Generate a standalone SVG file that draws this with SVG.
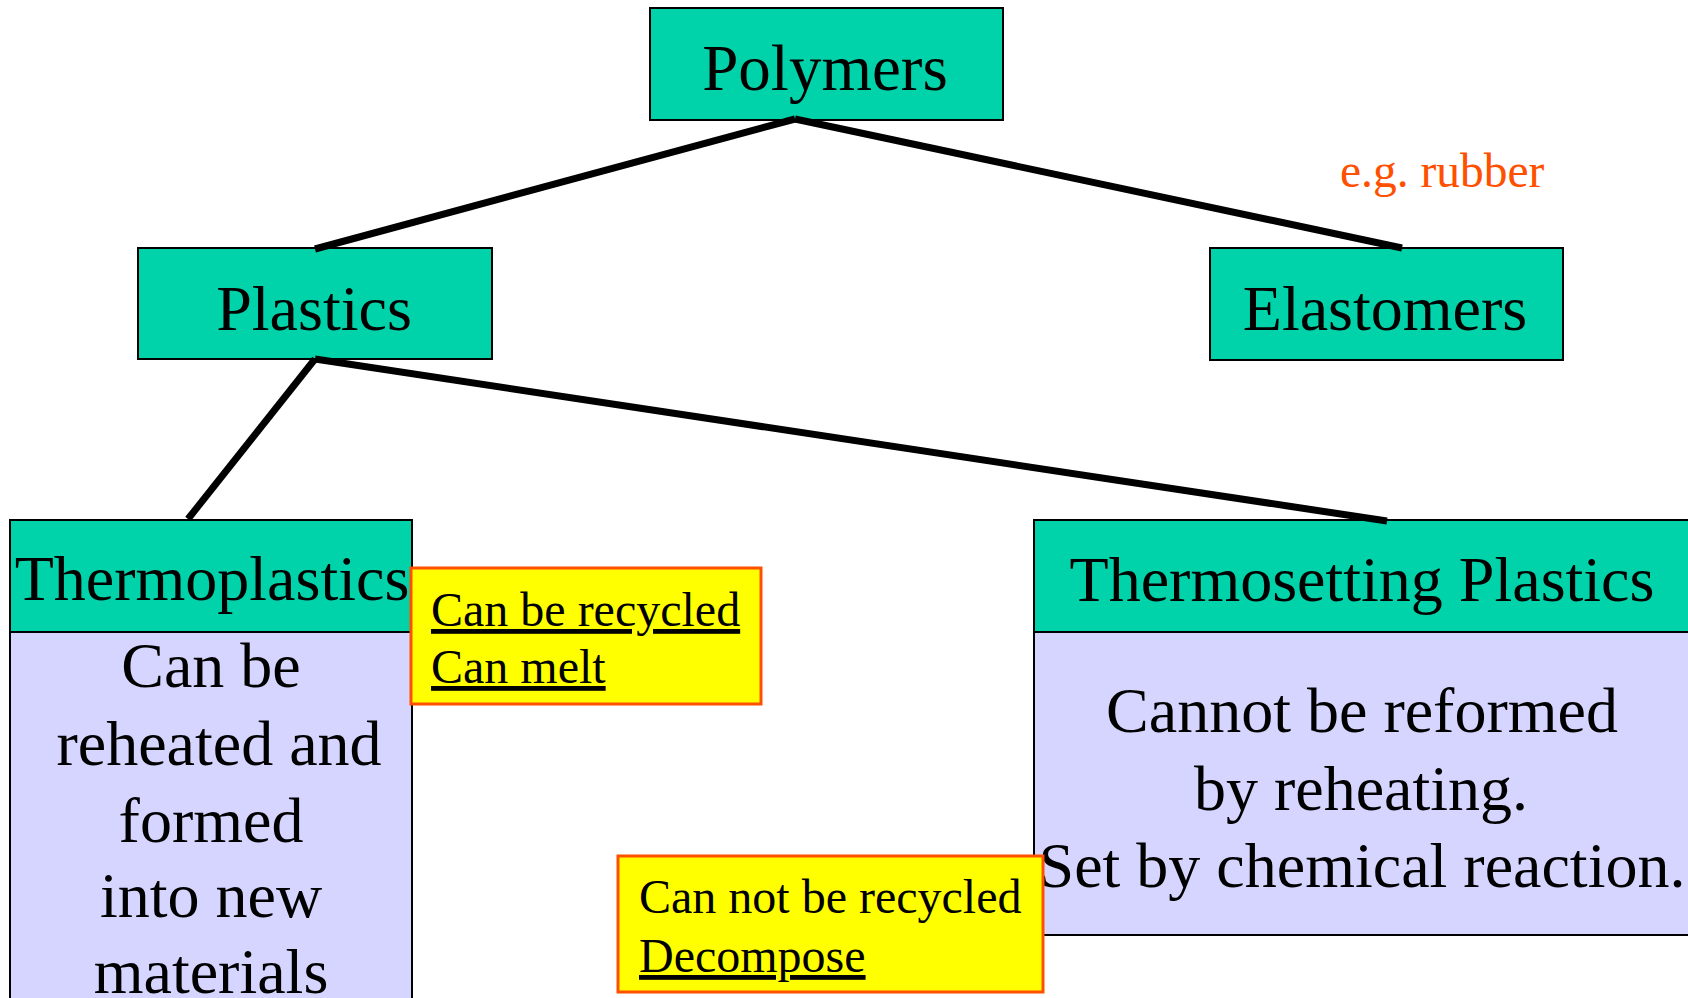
<svg xmlns="http://www.w3.org/2000/svg" width="1688" height="998" viewBox="0 0 1688 998">
<style>
  text { font-family: "Liberation Serif", "Times New Roman", serif; fill: #000; }
  .hdr { fill: #00D2AA; stroke: #000; stroke-width: 2; }
  .body { fill: #D5D5FF; stroke: #000; stroke-width: 2; }
  .note { fill: #FFFF00; stroke: #FF5000; stroke-width: 3; }
  .big { font-size: 64px; text-anchor: middle; }
  .small { font-size: 48px; }
  .u { text-decoration: underline; }
  .conn { stroke: #000; stroke-width: 7; fill: none; stroke-linecap: butt; }
</style>
<rect x="0" y="0" width="1688" height="998" fill="#FFFFFF"/>

<g id="polymers">
  <rect class="hdr" x="650" y="8" width="353" height="112"/>
  <text class="big" x="825" y="90" style="font-size:65px">Polymers</text>
</g>

<g id="plastics">
  <rect class="hdr" x="138" y="248" width="354" height="111"/>
  <text class="big" x="314" y="330">Plastics</text>
</g>

<g id="elastomers">
  <rect class="hdr" x="1210" y="248" width="353" height="112"/>
  <text class="big" x="1385" y="330">Elastomers</text>
</g>

<g id="rubber-label">
  <text x="1340" y="187" style="font-size:47.5px; fill:#FF5000">e.g. rubber</text>
</g>

<g id="thermoplastics">
  <rect class="body" x="10" y="632" width="402" height="400"/>
  <rect class="hdr" x="10" y="520" width="402" height="112"/>
  <text class="big" x="212" y="600">Thermoplastics</text>
  <text class="big" x="211" y="687">Can be</text>
  <text class="big" x="219" y="765">reheated and</text>
  <text class="big" x="211" y="842">formed</text>
  <text class="big" x="211" y="917">into new</text>
  <text class="big" x="211" y="993">materials</text>
</g>

<g id="thermosetting">
  <rect class="body" x="1034" y="632" width="660" height="303"/>
  <rect class="hdr" x="1034" y="520" width="660" height="112"/>
  <text class="big" x="1362" y="601">Thermosetting Plastics</text>
  <text class="big" x="1362" y="732">Cannot be reformed</text>
  <text class="big" x="1361" y="810">by reheating.</text>
  <text class="big" x="1362" y="887">Set by chemical reaction.</text>
</g>

<g id="note-recycle">
  <rect class="note" x="411" y="568" width="350" height="136"/>
  <text class="small u" x="431" y="626">Can be recycled</text>
  <text class="small u" x="431" y="683">Can melt</text>
</g>

<g id="note-decompose">
  <rect class="note" x="618" y="856" width="425" height="136"/>
  <text class="small" x="639" y="913">Can not be recycled</text>
  <text class="small u" x="639" y="972">Decompose</text>
</g>

<g id="connectors">
  <line class="conn" x1="795" y1="119" x2="315" y2="249"/>
  <line class="conn" x1="795" y1="119" x2="1402" y2="248"/>
  <line class="conn" x1="315" y1="359" x2="188" y2="519"/>
  <line class="conn" x1="315" y1="359" x2="1387" y2="521"/>
</g>
</svg>
